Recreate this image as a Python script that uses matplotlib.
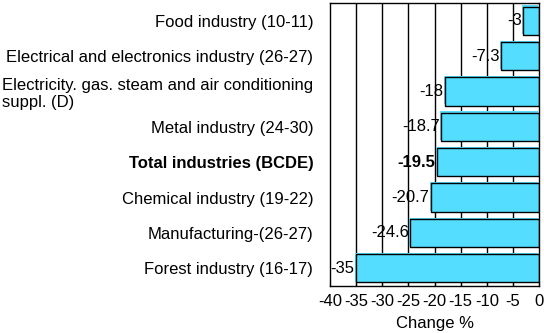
import matplotlib
matplotlib.use("Agg")
import matplotlib.pyplot as plt
import matplotlib.transforms as mtransforms

plt.rcParams['font.family'] = ['Liberation Sans', 'DejaVu Sans']

categories = [
    "Food industry (10-11)",
    "Electrical and electronics industry (26-27)",
    "Electricity. gas. steam and air conditioning\nsuppl. (D)",
    "Metal industry (24-30)",
    "Total industries (BCDE)",
    "Chemical industry (19-22)",
    "Manufacturing-(26-27)",
    "Forest industry (16-17)",
]
values = [-3, -7.3, -18, -18.7, -19.5, -20.7, -24.6, -35]
value_labels = ["-3", "-7.3", "-18", "-18.7", "-19.5", "-20.7", "-24.6", "-35"]
bold_index = 4
xticks = [-40, -35, -30, -25, -20, -15, -10, -5, 0]

FS = 12

fig = plt.figure(figsize=(5.44, 3.33), dpi=100)
ax = fig.add_axes([330/544, 1 - 286/333, 209/544, 283/333])

n = len(categories)
ypos = list(range(n))
ax.set_ylim(n - 0.5, -0.5)
ax.set_xlim(-40, 0)

for x in xticks[1:-1]:
    ax.axvline(x, color='black', lw=1, zorder=0)

shift = mtransforms.offset_copy(ax.transData, fig=fig, x=-1.2, y=1.2, units='dots')
ax.barh(ypos, values, height=0.8, color='#55DDFF', edgecolor='none', zorder=1.5,
        transform=shift)
ax.barh(ypos, values, height=0.8, color='#55DDFF', edgecolor='black', lw=1, zorder=2)

for i, (v, lab) in enumerate(zip(values, value_labels)):
    ax.text(v - 0.3, i, lab, ha='right', va='center', fontsize=FS,
            fontweight='bold' if i == bold_index else 'normal', zorder=3)

ax.set_yticks(ypos)
ax.set_yticklabels(categories, fontsize=FS, multialignment='left')
for i, t in enumerate(ax.get_yticklabels()):
    if i == bold_index:
        t.set_fontweight('bold')
ax.tick_params(axis='y', length=0, pad=12)
ax.set_xticks(xticks)
ax.set_xticklabels([str(x) for x in xticks], fontsize=FS)
ax.tick_params(axis='x', direction='in', length=4, pad=6)
ax.set_xlabel("Change %", fontsize=FS, labelpad=5)
for s in ax.spines.values():
    s.set_linewidth(1)

fig.savefig("out.png", dpi=100)
